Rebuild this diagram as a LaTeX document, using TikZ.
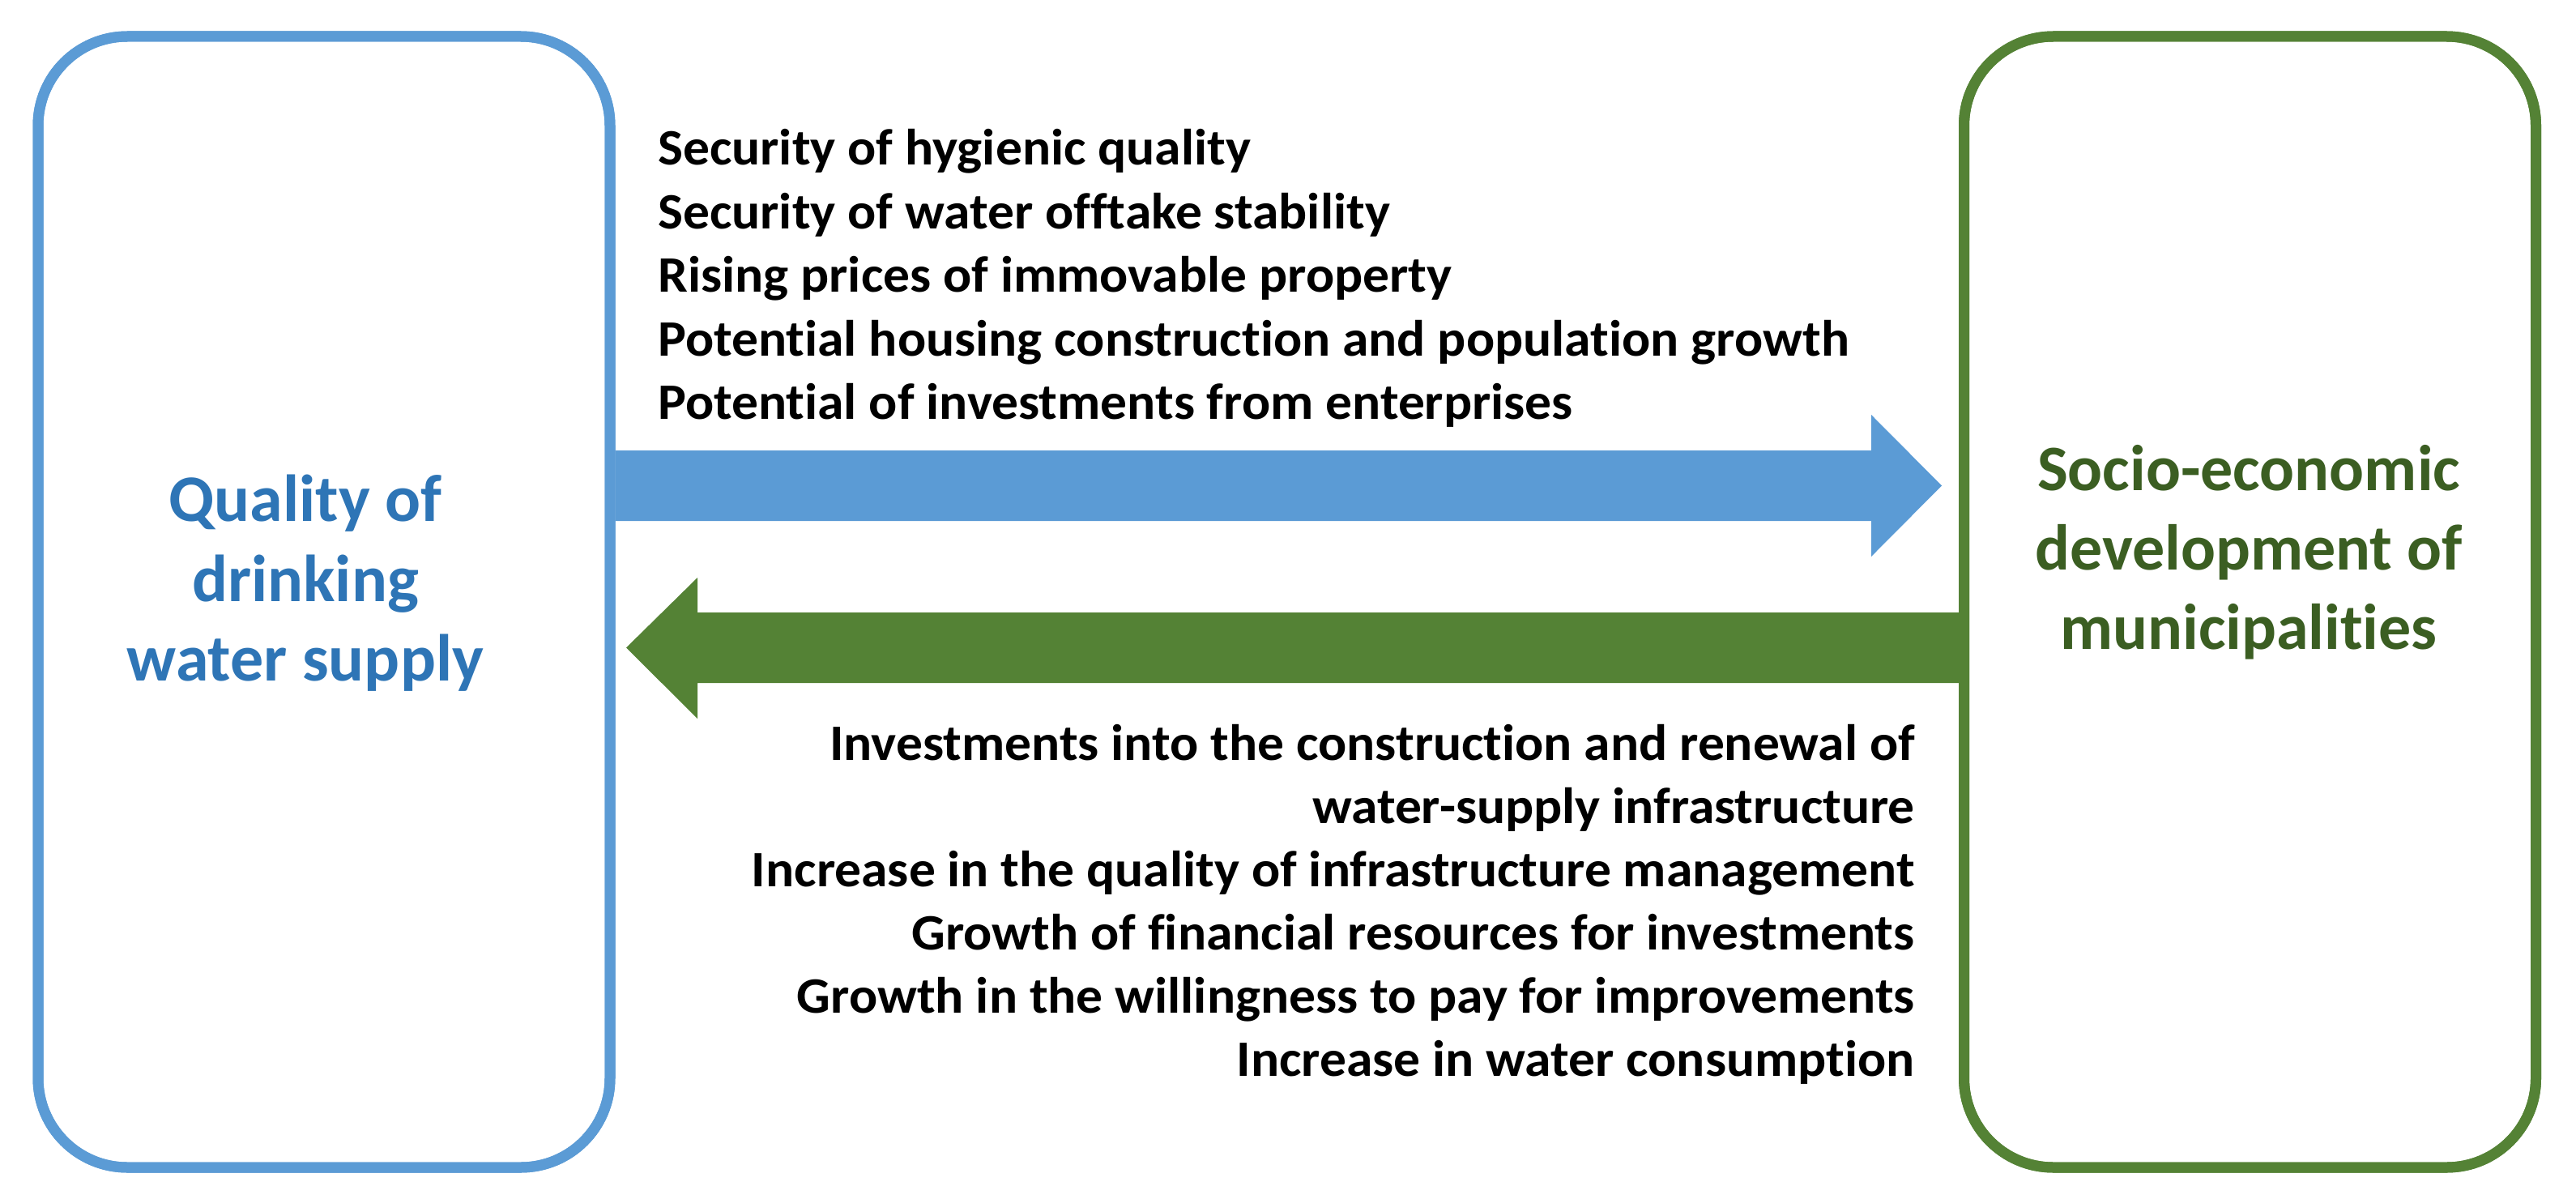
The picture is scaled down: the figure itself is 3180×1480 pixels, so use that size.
\documentclass[tikz,border=0pt]{standalone}
\usepackage{fontspec}
\setmainfont{Carlito}[Ligatures=NoCommon]
\newfontfamily\bodyfont{Carlito}[Ligatures=NoCommon, FakeStretch=1.04]
\definecolor{boxblue}{HTML}{5B9BD5}
\definecolor{titleblue}{HTML}{2E75B6}
\definecolor{boxgreen}{HTML}{548235}
\definecolor{titlegreen}{HTML}{3B5E22}
\tikzset{
  panel/.style={draw=#1, line width=13pt, rounded corners=110pt, inner sep=0pt,
    minimum width=706pt, minimum height=1396pt},
  titletxt/.style={font=\fontsize{#1}{#1}\selectfont\bfseries, inner sep=0pt, anchor=base},
  bodyL/.style={font=\bodyfont\fontsize{63}{63}\selectfont\bfseries, inner sep=0pt, anchor=base west},
  bodyR/.style={font=\bodyfont\fontsize{63}{63}\selectfont\bfseries, inner sep=0pt, anchor=base east},
}
\begin{document}
\begin{tikzpicture}[x=1pt, y=-1pt]
\useasboundingbox[fill=white] (0,0) rectangle (3180,1480);
% boxes
\node[panel=boxblue] (left) at (400,743) {};
\node[panel=boxgreen] (right) at (2777.5,743) {};
% blue arrow (left to right)
\coordinate (b0) at (left.east |- 0,556);
\coordinate (b1) at (left.east |- 0,643);
\fill[boxblue] (b0) -- (2310,556) -- (2310,512) -- (2397,599.5) -- (2310,687) -- (2310,643) -- (b1) -- cycle;
% green arrow (right to left)
\coordinate (g0) at (right.west |- 0,756);
\coordinate (g1) at (right.west |- 0,843);
\fill[boxgreen] (g0) -- (861,756) -- (861,713) -- (773,799.5) -- (861,887) -- (861,843) -- (g1) -- cycle;
% redraw box lines on top
\node[panel=boxblue] at (400,743) {};
\node[panel=boxgreen] at (2777.5,743) {};
% titles
\node[titletxt=82, text=titleblue] (lt1) at (377,643) {Quality of};
\node[titletxt=82, text=titleblue] (lt2) at (377,742) {drinking};
\node[titletxt=82, text=titleblue] (lt3) at (377,840) {water supply};
\node[titletxt=80, text=titlegreen] (rt1) at (2776,605) {Socio-economic};
\node[titletxt=80, text=titlegreen] (rt2) at (2776,703) {development of};
\node[titletxt=80, text=titlegreen] (rt3) at (2776,801) {municipalities};
% upper texts
\node[bodyL] (u1) at (812,203) {Security of hygienic quality};
\node[bodyL] (u2) at (812,282) {Security of water offtake stability};
\node[bodyL] (u3) at (812,360) {Rising prices of immovable property};
\node[bodyL] (u4) at (812,439) {Potential housing construction and population growth};
\node[bodyL] (u5) at (812,517) {Potential of investments from enterprises};
% lower texts
\node[bodyR] (d1) at (2364,938) {Investments into the construction and renewal of};
\node[bodyR] (d2) at (2364,1016) {water-supply infrastructure};
\node[bodyR] (d3) at (2364,1094) {Increase in the quality of infrastructure management};
\node[bodyR] (d4) at (2364,1172) {Growth of financial resources for investments};
\node[bodyR] (d5) at (2364,1250) {Growth in the willingness to pay for improvements};
\node[bodyR] (d6) at (2364,1328) {Increase in water consumption};
\end{tikzpicture}
\end{document}
